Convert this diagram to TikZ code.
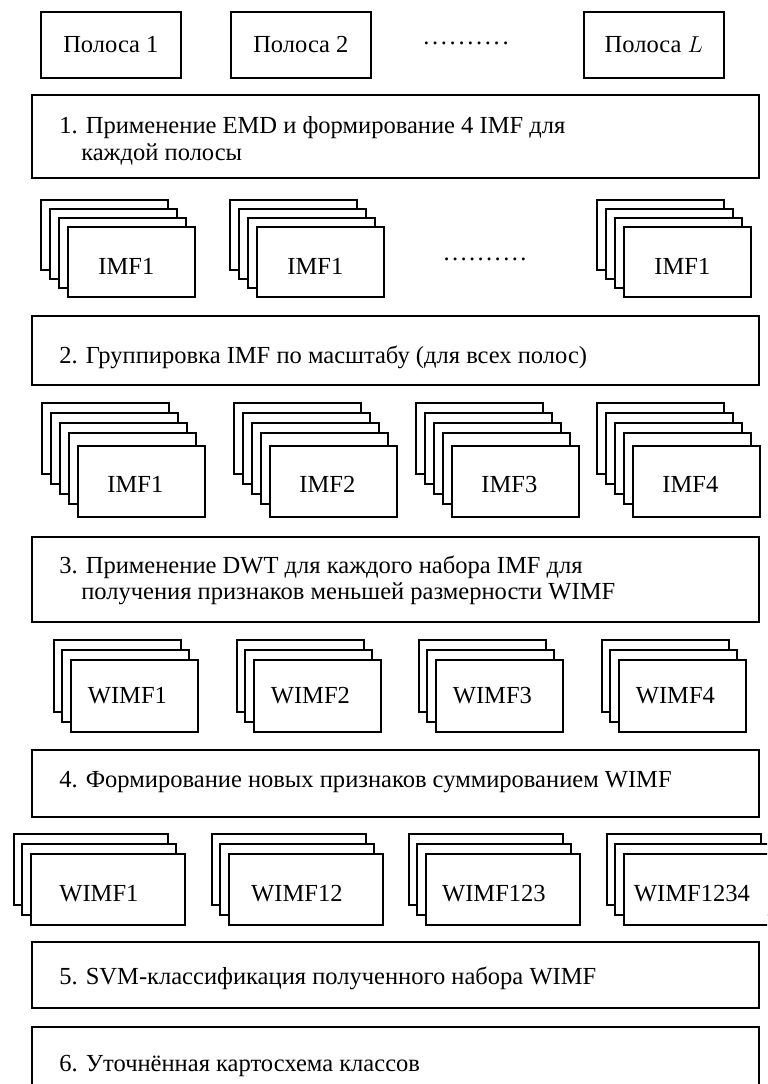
\documentclass[tikz,border=0pt]{standalone}
\usepackage{fontspec}
\setmainfont{Liberation Serif}
\begin{document}
\begin{tikzpicture}[x=0.75pt,y=-0.75pt,
  lw/.style={line width=1.35pt},
  card/.style={lw, draw, fill=white, inner sep=0pt, anchor=north west},
  stepbox/.style={lw, draw, inner sep=0pt, anchor=north west,
    minimum width=727*0.75pt},
  bandbox/.style={lw, draw, inner sep=0pt, anchor=north west,
    minimum width=140*0.75pt, minimum height=66*0.75pt},
  txt/.style={inner sep=0pt, font=\fontsize{18.4}{22}\selectfont},
  captxt/.style={txt, anchor=base},
  steptxt/.style={txt, anchor=base west},
  dotrow/.style={txt, inner sep=0pt}]
\useasboundingbox (0,0) rectangle (767,1084);
\clip (0,0) rectangle (767,1084);

% input bands
\node[bandbox] (b1) at (40,11) {};
\node[bandbox] (b2) at (230,11) {};
\node[bandbox] (bL) at (583,11) {};
\node[captxt] (b1t) at ([yshift=-7.5*0.75pt]b1.center) {Полоса 1};
\node[captxt] (b2t) at ([yshift=-7.5*0.75pt]b2.center) {Полоса 2};
\node[captxt] (bLt) at ([yshift=-7.5*0.75pt]bL.center) {Полоса $L$};
\node[dotrow] (bdots) at (466,43)
  {\makebox[66pt]{\leaders\hbox to 6.6pt{\hss.\hss}\hfill}};

% step 1
\node[stepbox, minimum height=83*0.75pt] (s1) at (31,94) {};
\node[steptxt] (s1a) at (59,134) {1. Применение EMD и формирование 4 IMF для};
\node[steptxt] (s1b) at (81,161) {каждой полосы};

% IMF sets of every band
\foreach \col/\bx in {a/40, b/229, c/596} {
  \foreach \k/\dx/\dy in {1/0/0, 2/9/9, 3/18/18, 4/27/27} {
    \node[card, minimum width=127*0.75pt, minimum height=70*0.75pt]
      (ia-\col-\k) at (\bx+\dx,199+\dy) {};
  }
  \node[captxt] (ia-\col-t) at ([shift={(-5,13)}]ia-\col-4.center) {IMF1};
}
\node[dotrow] (idots) at (485,259)
  {\makebox[64pt]{\leaders\hbox to 6.4pt{\hss.\hss}\hfill}};

% step 2
\node[stepbox, minimum height=69*0.75pt] (s2) at (31,315) {};
\node[steptxt] (s2a) at (59,363) {2. Группировка IMF по масштабу (для всех полос)};

% IMF grouped by scale
\foreach \col/\bx/\lab in {a/41/IMF1, b/233/IMF2, c/415/IMF3, d/596/IMF4} {
  \foreach \k/\dx/\dy in {1/0/0, 2/9/10, 3/18/20, 4/27/30, 5/36/43} {
    \node[card, minimum width=127*0.75pt, minimum height=71*0.75pt]
      (ib-\col-\k) at (\bx+\dx,402+\dy) {};
  }
  \node[captxt] (ib-\col-t) at ([shift={(-6,11)}]ib-\col-5.center) {\lab};
}

% step 3
\node[stepbox, minimum height=85*0.75pt] (s3) at (31,536) {};
\node[steptxt] (s3a) at (59,573) {3. Применение DWT для каждого набора IMF для};
\node[steptxt] (s3b) at (81,599) {получения признаков меньшей размерности WIMF};

% wavelet features
\foreach \col/\bx/\lab in {a/53/WIMF1, b/236/WIMF2, c/418/WIMF3, d/601/WIMF4} {
  \foreach \k/\dx/\dy in {1/0/0, 2/8/10, 3/17/20} {
    \node[card, minimum width=127*0.75pt, minimum height=72*0.75pt]
      (wa-\col-\k) at (\bx+\dx,639+\dy) {};
  }
  \node[captxt] (wa-\col-t) at ([shift={(-7,8)}]wa-\col-3.center) {\lab};
}

% step 4
\node[stepbox, minimum height=67*0.75pt] (s4) at (31,749) {};
\node[steptxt] (s4a) at (59,787) {4. Формирование новых признаков суммированием WIMF};

% summed features
\foreach \col/\bx/\lab in {a/13/WIMF1, b/211/WIMF12, c/408/WIMF123, d/606/WIMF1234} {
  \foreach \k/\dx/\dy in {1/0/0, 2/8/10, 3/17/20} {
    \node[card, minimum width=154*0.75pt, minimum height=71*0.75pt]
      (wb-\col-\k) at (\bx+\dx,833+\dy) {};
  }
  \node[captxt] (wb-\col-t) at ([shift={(-9,12)}]wb-\col-3.center) {\lab};
}

% steps 5 and 6
\node[stepbox, minimum height=66*0.75pt] (s5) at (31,941) {};
\node[steptxt] (s5a) at (59,984) {5. SVM-классификация полученного набора WIMF};
\node[stepbox, minimum height=74*0.75pt] (s6) at (31,1026) {};
\node[steptxt] (s6a) at (59,1071) {6. Уточнённая картосхема классов};
\end{tikzpicture}
\end{document}
